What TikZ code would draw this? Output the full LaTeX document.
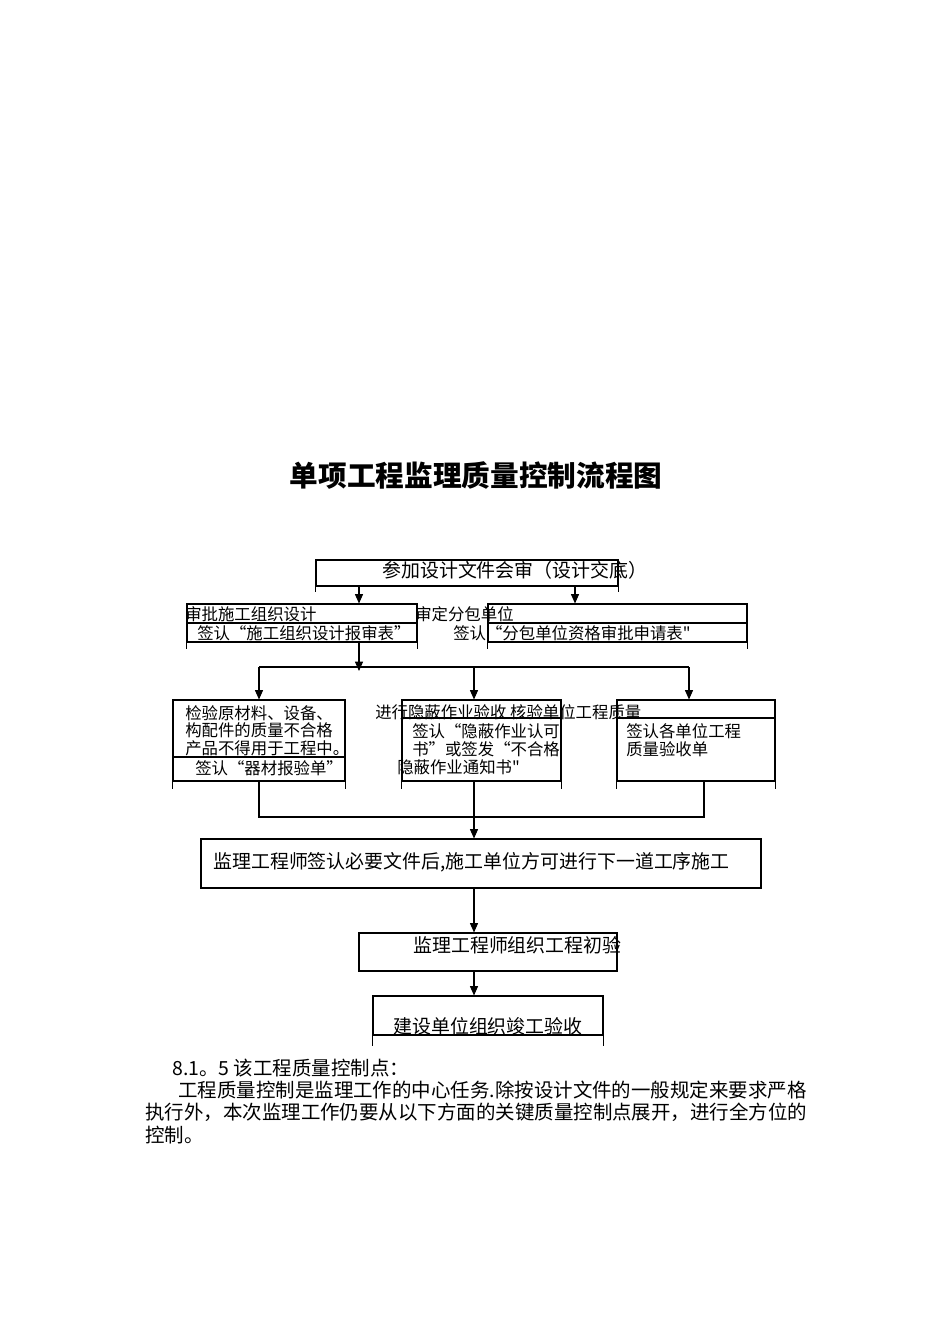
\documentclass[tikz,border=0pt]{standalone}
\usepackage{fontspec}
\newfontfamily\cjk{Noto Sans CJK SC}
\begin{document}
\usetikzlibrary{arrows.meta,fit}
\begin{tikzpicture}[x=0.75pt,y=-0.75pt,
  box/.style={draw, line width=0.8pt, inner sep=0pt},
  ln/.style={line width=0.8pt},
  arr/.style={line width=0.8pt, -{Triangle[length=7pt,width=6pt]}},
  txt/.style={inner sep=0pt, anchor=west, font=\cjk\fontsize{12.3}{14}\selectfont},
  txtb/.style={inner sep=0pt, anchor=west, font=\cjk\fontsize{14.2}{16}\selectfont},
  body/.style={inner sep=0pt, anchor=west, font=\cjk\fontsize{14.6}{17}\selectfont},
  ttl/.style={inner sep=0pt, font=\cjk\fontsize{21.5}{24}\selectfont\bfseries}]
\fill[white] (0,0) rectangle (950,1344);
\useasboundingbox (0,0) rectangle (950,1344);

% title
\node[ttl] (title) at (476,476) {单项工程监理质量控制流程图};

% top box
\node[box, fit={(316,560)(618,586)}] (top) {};
\draw[ln] (top.south west) -- ++(0,5) (top.south east) -- ++(0,5);
\node[txtb] (ttop) at (382,570) {参加设计文件会审（设计交底）};

% row 2
\node[box, fit={(187,604)(417,642)}] (lb) {};
\draw[ln] (187,623) -- (417,623);
\draw[ln] (lb.south west) -- ++(0,6) (lb.south east) -- ++(0,6);
\node[box, fit={(488,604)(747,642)}] (rb) {};
\draw[ln] (488,623) -- (747,623);
\draw[ln] (rb.south west) -- ++(0,6) (rb.south east) -- ++(0,6);
\node[txt] (tlb1) at (185,614) {审批施工组织设计};
\node[txt] (tlb2) at (197,633) {签认“施工组织设计报审表”};
\node[txt] (trb1) at (415,614) {审定分包单位};
\node[txt] (trb2) at (453,633) {签认“分包单位资格审批申请表"};

% row 3
\node[box, fit={(173,700)(345,781)}] (ba) {};
\draw[ln] (173,757) -- (345,757);
\draw[ln] (ba.south west) -- ++(0,7) (ba.south east) -- ++(0,7);
\node[box, fit={(402,700)(561,781)}] (bb) {};
\draw[ln] (402,718) -- (561,718);
\draw[ln] (bb.south west) -- ++(0,7) (bb.south east) -- ++(0,7);
\node[box, fit={(617,700)(775,781)}] (bc) {};
\draw[ln] (617,718) -- (775,718);
\draw[ln] (bc.south west) -- ++(0,7) (bc.south east) -- ++(0,7);

\node[txt] (ta1) at (185,713) {检验原材料、设备、};
\node[txt] (ta2) at (185,730) {构配件的质量不合格};
\node[txt] (ta3) at (185,748) {产品不得用于工程中。};
\node[txt] (ta4) at (195,768) {签认“器材报验单”};
\node[txt] (tb0) at (375,712) {进行隐蔽作业验收 核验单位工程质量};
\node[txt] (tb1) at (412,731) {签认“隐蔽作业认可};
\node[txt] (tb2) at (412,749) {书”或签发“不合格};
\node[txt] (tb3) at (397,767) {隐蔽作业通知书"};
\node[txt] (tc1) at (626,731) {签认各单位工程};
\node[txt] (tc2) at (626,749) {质量验收单};

% lower boxes
\node[box, fit={(201,839)(761,888)}] (big) {};
\node[txtb] (tbig) at (213,862) {监理工程师签认必要文件后,施工单位方可进行下一道工序施工};
\node[box, fit={(359,933)(617,971)}] (init) {};
\node[txtb] (tinit) at (413,945) {监理工程师组织工程初验};
\node[box, fit={(373,996)(603,1035)}] (final) {};
\draw[ln] (final.south west) -- ++(0,10) (final.south east) -- ++(0,10);
\node[txtb] (tfinal) at (393,1026) {建设单位组织竣工验收};

% connector coordinates
\coordinate (xa) at (359,0);
\coordinate (xb) at (575,0);
\coordinate (h1) at (359,671);
\coordinate (hL) at (259,667);
\coordinate (hM) at (474,667);
\coordinate (hR) at (689,667);
\coordinate (gL) at (259,817);
\coordinate (gM) at (474,817);
\coordinate (gR) at (704,817);

\draw[arr] (top.south -| xa) -- (lb.north -| xa);
\draw[arr] (top.south -| xb) -- (rb.north -| xb);
\draw[arr] (lb.south -| xa) -- (h1);
\draw[ln] (hL) -- (hR);
\draw[arr] (hL) -- (ba.north -| hL);
\draw[arr] (hM) -- (bb.north -| hM);
\draw[arr] (hR) -- (bc.north -| hR);
\draw[ln] (ba.south -| gL) -- (gL) -- (gR) -- (bc.south -| gR);
\draw[ln] (bb.south -| gM) -- (gM);
\draw[arr] (gM) -- (big.north -| gM);
\draw[arr] (big.south -| gM) -- (init.north -| gM);
\draw[arr] (init.south -| gM) -- (final.north -| gM);

% body text
\node[body] (p1) at (172,1068) {8.1。5 该工程质量控制点：};
\node[body] (p2) at (178,1090) {工程质量控制是监理工作的中心任务.除按设计文件的一般规定来要求严格};
\node[body] (p3) at (145,1112) {执行外，本次监理工作仍要从以下方面的关键质量控制点展开，进行全方位的};
\node[body] (p4) at (145,1135) {控制。};
\end{tikzpicture}
\end{document}
